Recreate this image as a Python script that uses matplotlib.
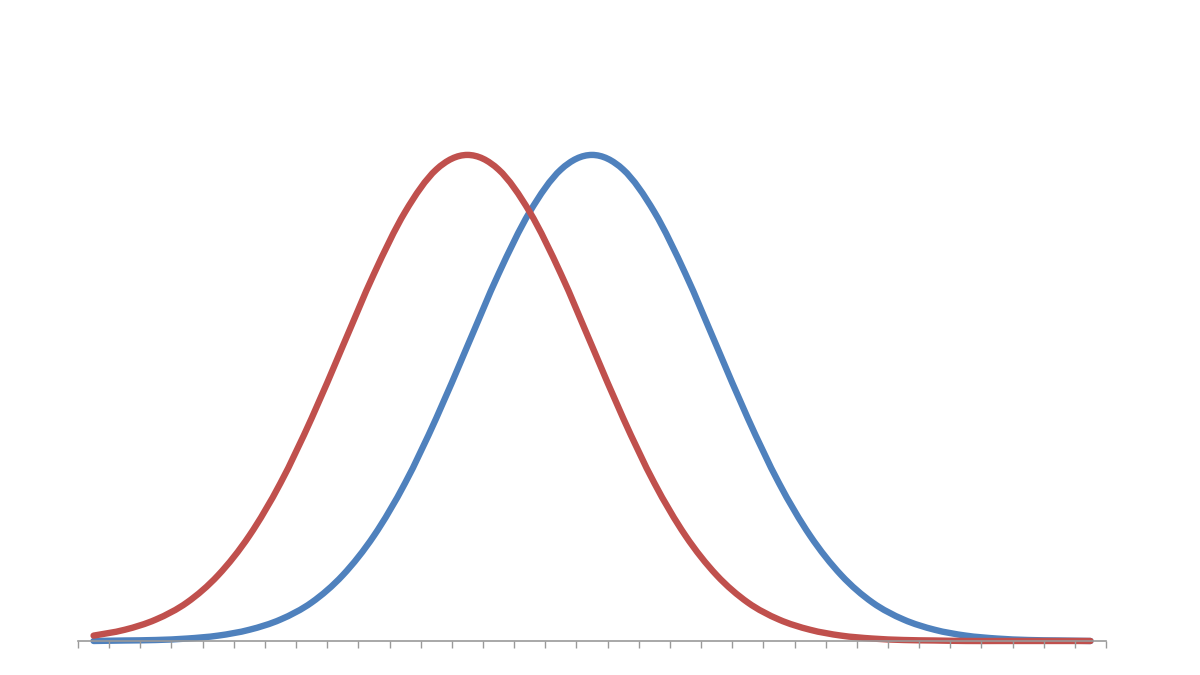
import numpy as np
import matplotlib
matplotlib.use("Agg")
import matplotlib.pyplot as plt
from matplotlib.path import Path
from matplotlib.patches import PathPatch

# categories 0..32, values
categories = list(range(33))
red_values = [0.0011, 0.0023, 0.0044, 0.0079, 0.0135, 0.0216, 0.0324, 0.0457,
              0.0605, 0.0753, 0.0880, 0.0967, 0.0997, 0.0967, 0.0880, 0.0753,
              0.0605, 0.0457, 0.0324, 0.0216, 0.0135, 0.0079, 0.0044, 0.0023,
              0.0011, 0.0005, 0.0002, 0.0001, 0.0, 0.0, 0.0, 0.0, 0.0]
blue_values = [0.0000, 0.0001, 0.0002, 0.0005, 0.0011, 0.0023, 0.0044, 0.0079,
               0.0135, 0.0216, 0.0324, 0.0457, 0.0605, 0.0753, 0.0880, 0.0967,
               0.0997, 0.0967, 0.0880, 0.0753, 0.0605, 0.0457, 0.0324, 0.0216,
               0.0135, 0.0079, 0.0044, 0.0023, 0.0011, 0.0005, 0.0002, 0.0001,
               0.0000]

RED = "#C0504D"
BLUE = "#4F81BD"


def smooth_path(x, y):
    """Smoothed line like Excel's: Catmull-Rom segments as cubic Beziers"""
    x = np.asarray(x, float)
    y = np.asarray(y, float)
    verts = [(x[0], y[0])]
    codes = [Path.MOVETO]
    n = len(x)
    for i in range(n - 1):
        p0 = (x[max(i - 1, 0)], y[max(i - 1, 0)])
        p1 = (x[i], y[i])
        p2 = (x[i + 1], y[i + 1])
        p3 = (x[min(i + 2, n - 1)], y[min(i + 2, n - 1)])
        c1 = (p1[0] + (p2[0] - p0[0]) / 6, p1[1] + (p2[1] - p0[1]) / 6)
        c2 = (p2[0] - (p3[0] - p1[0]) / 6, p2[1] - (p3[1] - p1[1]) / 6)
        verts += [c1, c2, p2]
        codes += [Path.CURVE4] * 3
    return Path(verts, codes)


fig = plt.figure(figsize=(12, 6.75), dpi=100)
ax = fig.add_axes([0.065, 0.0504, 0.8567, 0.8667])

for vals, col in [(blue_values, BLUE), (red_values, RED)]:
    patch = PathPatch(smooth_path(categories, vals), facecolor="none",
                      edgecolor=col, lw=4.6, capstyle="round",
                      joinstyle="round", clip_on=False)
    ax.add_patch(patch)

ax.set_xlim(-0.5, 32.5)
ax.set_ylim(0, 0.12)

# category axis: tick marks between categories
ax.set_xticks(np.arange(-0.5, 33, 1))
ax.set_xticklabels([])
ax.set_yticks([])
ax.tick_params(axis="x", direction="out", length=5, width=1, color="#9a9a9a")
for side in ["left", "right", "top"]:
    ax.spines[side].set_visible(False)
ax.spines["bottom"].set_color("#9a9a9a")
ax.spines["bottom"].set_linewidth(1.2)

fig.savefig("out.png", dpi=100)
